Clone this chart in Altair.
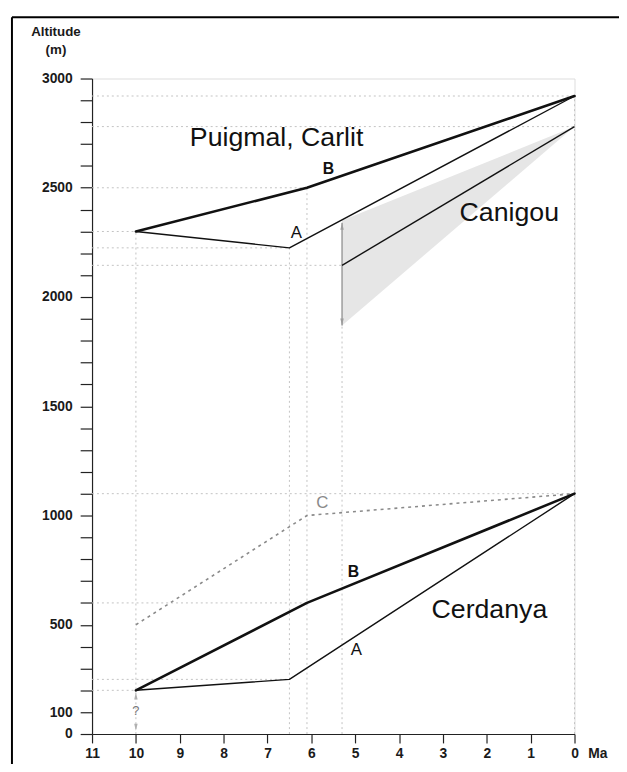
import altair as alt
import pandas as pd

# ---------------- data ----------------
puig_B_age = [10, 6.1, 0]
puig_B_alt = [2300, 2500, 2920]
puig_A_age = [10, 6.5, 0]
puig_A_alt = [2300, 2225, 2920]
canigou_age = [5.3, 0]
canigou_alt = [2145, 2780]
canigou_range_age = [5.3, 0]
canigou_range_low = [1870, 2780]
canigou_range_high = [2350, 2780]
cerd_B_age = [10, 6.1, 0]
cerd_B_alt = [200, 600, 1100]
cerd_A_age = [10, 6.5, 0]
cerd_A_alt = [200, 250, 1100]
cerd_C_age = [10, 6.1, 0]
cerd_C_alt = [500, 1000, 1100]

arrow_age = [5.3, 10]
arrow_low = [1870, 15]
arrow_high = [2340, 190]

hgrid_alt = [2920, 2780, 2500, 2300, 2225, 2145, 1100, 600, 250, 200]
hgrid_end = [0, 0, 6.1, 10, 6.5, 5.3, 0, 6.1, 6.5, 10]
vgrid_age = [10, 6.5, 6.1, 5.3, 0]
vgrid_top = [2300, 2225, 2500, 1870, 2920]

x_ticks = list(range(0, 12))
y_ticks = list(range(0, 3001, 100))
y_labelled = [0, 100, 500, 1000, 1500, 2000, 2500, 3000]

big_text = ["Puigmal, Carlit", "Canigou", "Cerdanya"]
big_age = [8.77, 2.62, 3.26]
big_alt = [2690, 2350, 533]
bold_text = ["B", "B"]
bold_age = [5.74, 5.17]
bold_alt = [2562, 718]
small_text = ["A", "A", "C"]
small_age = [6.47, 5.1, 5.89]
small_alt = [2268, 362, 1034]
small_color = ["#111111", "#111111", "#8a8a8a"]
q_text = ["?"]
q_age = [10]
q_alt = [103]

# ---------------- layout ----------------
W, H = 488, 663
PAD_L, PAD_T, PAD_R, PAD_B = 85, 67, 45, 26
FONT = "Liberation Sans"

x_scale = alt.Scale(domain=[0, 11], reverse=True, nice=False, zero=False)
y_scale = alt.Scale(domain=[0, 3000], nice=False, zero=False)

x_axis = alt.Axis(
    values=x_ticks, format="d", title=None, grid=False,
    tickSize=9, tickWidth=1.2, tickColor="#222", domainColor="#222", domainWidth=1.2,
    labelPadding=4, labelFontSize=14, labelFontWeight="bold", labelColor="#1a1a1a",
    labelFlush=False, labelOverlap=False, labelFont=FONT,
)
y_axis = alt.Axis(
    values=y_ticks, format="d",
    labelExpr="indexof(" + str(y_labelled) + ", datum.value) >= 0 ? datum.label : ''",
    title=["Altitude", "(m)"], titleAngle=0, titleX=-37, titleY=-55,
    titleAlign="center", titleBaseline="top", titleFontSize=13.5,
    titleFontWeight="bold", titleLineHeight=19, titleFont=FONT, titleColor="#1a1a1a",
    grid=False, tickSize=12, tickWidth=1.2, tickColor="#222",
    domainColor="#222", domainWidth=1.2,
    labelPadding=8, labelFontSize=14, labelFontWeight="bold", labelColor="#1a1a1a",
    labelFlush=False, labelOverlap=False, labelFont=FONT,
)


def X(f="age"):
    return alt.X(f + ":Q", scale=x_scale, axis=x_axis)


def Y(f="alt"):
    return alt.Y(f + ":Q", scale=y_scale, axis=y_axis)


def line_df(pairs):
    rows = []
    for i, (ages, alts) in enumerate(pairs):
        for j, (a, h) in enumerate(zip(ages, alts)):
            rows.append({"age": a, "alt": h, "id": i, "ord": j})
    return pd.DataFrame(rows)


# gridlines
hgrid_df = pd.DataFrame({"age": [11] * len(hgrid_alt), "end": hgrid_end, "alt": hgrid_alt})
vgrid_df = pd.DataFrame({"age": vgrid_age, "bottom": [0] * len(vgrid_age), "top": vgrid_top})

hgrid = alt.Chart(hgrid_df).mark_rule(color="#c2c2c2", strokeWidth=1, strokeDash=[2, 3]).encode(
    x=X(), x2=alt.X2("end"), y=Y())
vgrid = alt.Chart(vgrid_df).mark_rule(color="#c2c2c2", strokeWidth=1, strokeDash=[2, 3]).encode(
    x=X(), y=Y("bottom"), y2=alt.Y2("top"))

# Canigou shaded range
shade_df = pd.DataFrame({"age": canigou_range_age, "lo": canigou_range_low, "hi": canigou_range_high})
shade = alt.Chart(shade_df).mark_area(color="#e6e6e6", opacity=1).encode(
    x=X(), y=Y("lo"), y2=alt.Y2("hi"))

# arrows
arr_df = pd.DataFrame({"age": arrow_age, "lo": arrow_low, "hi": arrow_high,
                       "c": ["#9c9c9c", "#b0b0b0"]})
shaft = alt.Chart(arr_df.iloc[:1]).mark_rule(color="#9c9c9c", strokeWidth=1.5).encode(
    x=X(), y=Y("lo"), y2=alt.Y2("hi"))
head_up = alt.Chart(arr_df).mark_point(
    shape="M0,0L0.25,1L-0.25,1Z", size=196, filled=True, opacity=1,
    strokeWidth=0).encode(x=X(), y=Y("hi"), color=alt.Color("c:N", scale=None))
head_down = alt.Chart(arr_df).mark_point(
    shape="M0,0L0.25,-1L-0.25,-1Z", size=196, filled=True, opacity=1,
    strokeWidth=0).encode(x=X(), y=Y("lo"), color=alt.Color("c:N", scale=None))

# lines
thick = alt.Chart(line_df([(puig_B_age, puig_B_alt), (cerd_B_age, cerd_B_alt)])).mark_line(
    color="#111", strokeWidth=2.6, strokeJoin="round", strokeCap="round").encode(
    x=X(), y=Y(), detail="id:N", order="ord:Q")
thin = alt.Chart(line_df([(puig_A_age, puig_A_alt), (cerd_A_age, cerd_A_alt),
                          (canigou_age, canigou_alt)])).mark_line(
    color="#111", strokeWidth=1.4, strokeJoin="round").encode(
    x=X(), y=Y(), detail="id:N", order="ord:Q")
dashed = alt.Chart(line_df([(cerd_C_age, cerd_C_alt)])).mark_line(
    color="#8a8a8a", strokeWidth=1.6, strokeDash=[3, 4]).encode(
    x=X(), y=Y(), order="ord:Q")

# texts
big = alt.Chart(pd.DataFrame({"t": big_text, "age": big_age, "alt": big_alt})).mark_text(
    align="left", baseline="alphabetic", fontSize=27, font=FONT, color="#111").encode(
    x=X(), y=Y(), text="t:N")
bold = alt.Chart(pd.DataFrame({"t": bold_text, "age": bold_age, "alt": bold_alt})).mark_text(
    align="left", baseline="alphabetic", fontSize=16, fontWeight="bold", font=FONT, color="#111").encode(
    x=X(), y=Y(), text="t:N")
small = alt.Chart(pd.DataFrame({"t": small_text, "age": small_age, "alt": small_alt, "c": small_color})).mark_text(
    align="left", baseline="alphabetic", fontSize=17, font=FONT).encode(
    x=X(), y=Y(), text="t:N", color=alt.Color("c:N", scale=None))
qmark = alt.Chart(pd.DataFrame({"t": q_text, "age": q_age, "alt": q_alt})).mark_text(
    align="center", baseline="middle", fontSize=13, font=FONT, color="#777").encode(
    x=X(), y=Y(), text="t:N")

one = pd.DataFrame({"t": ["Ma"]})
ma = alt.Chart(one).mark_text(align="left", baseline="top", fontSize=14, fontWeight="bold",
                              font=FONT, color="#1a1a1a").encode(
    x=alt.value(W + 14), y=alt.value(H + 13), text="t:N")

# frame (top and left borders)
frame_top = alt.Chart(one).mark_rule(color="#000", strokeWidth=2).encode(
    x=alt.value(-81), x2=alt.value(W + 80), y=alt.value(-62))
frame_left = alt.Chart(one).mark_rule(color="#000", strokeWidth=2).encode(
    x=alt.value(-81), y=alt.value(-62), y2=alt.value(H + 60))

chart = alt.layer(
    hgrid, vgrid, shade, shaft, head_up, head_down, dashed, thin, thick,
    big, bold, small, qmark, ma, frame_top, frame_left,
).properties(
    width=W, height=H,
    autosize=alt.AutoSizeParams(type="none"),
    padding={"left": PAD_L, "top": PAD_T, "right": PAD_R, "bottom": PAD_B},
).configure_view(stroke=None).configure(font=FONT, background="white")

chart.save("out.html", embed_options={"renderer": "svg", "actions": False})
